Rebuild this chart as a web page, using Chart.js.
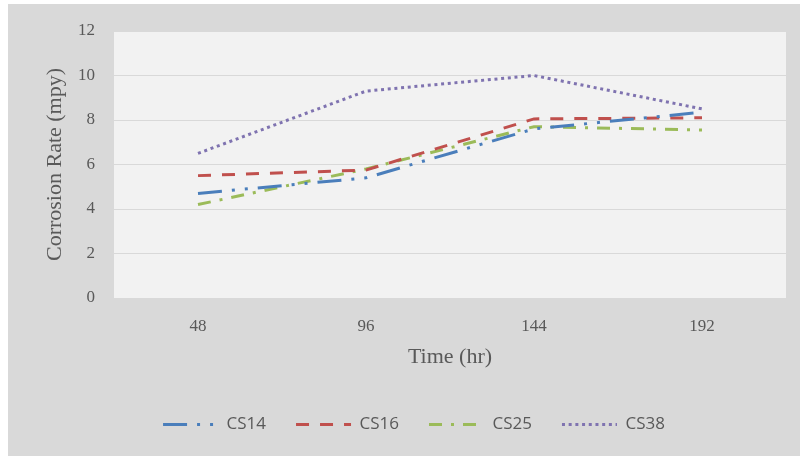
<!DOCTYPE html>
<html>
<head>
<meta charset="utf-8">
<script src="https://cdn.jsdelivr.net/npm/chart.js@4/dist/chart.umd.min.js"></script>
<style>
  html, body { margin: 0; padding: 0; background: #fff; }
  #wrap { width: 800px; height: 456px; }
</style>
</head>
<body>
<div id="wrap"><canvas id="chart" width="800" height="456"></canvas></div>
<script>
// values
const hours = ['48', '96', '144', '192'];
const cs14 = [4.7, 5.4, 7.6, 8.35];
const cs16 = [5.5, 5.75, 8.05, 8.1];
const cs25 = [4.2, 5.8, 7.7, 7.55];
const cs38 = [6.5, 9.3, 10.0, 8.5];

const textColor = '#595959';
const serif = "'Liberation Serif', 'DejaVu Serif', serif";

// gray chart area + light plot area
const backgroundPlugin = {
    id: 'background',
    beforeDraw(chart) {
        const ctx = chart.ctx;
        const a = chart.chartArea;
        ctx.save();
        ctx.fillStyle = '#ffffff';
        ctx.fillRect(0, 0, chart.width, chart.height);
        ctx.fillStyle = '#d9d9d9';
        ctx.fillRect(8, 4, chart.width - 8, chart.height - 4);
        ctx.fillStyle = '#f2f2f2';
        ctx.fillRect(a.left, a.top, a.right - a.left, a.bottom - a.top);
        ctx.restore();
    }
};

function series(label, data, color, dash) {
    return {
        label: label,
        data: data,
        borderColor: color,
        backgroundColor: color,
        borderWidth: 3,
        borderDash: dash,
        borderCapStyle: 'butt',
        pointRadius: 0,
        pointHoverRadius: 0,
        tension: 0,
        fill: false
    };
}

// legend with point style 'line' loses the dash, put it back
function legendLabels(chart) {
    const items = Chart.defaults.plugins.legend.labels.generateLabels(chart);
    items.forEach(item => {
        const ds = chart.data.datasets[item.datasetIndex];
        item.lineDash = ds.borderDash;
        item.lineWidth = ds.borderWidth;
        item.strokeStyle = ds.borderColor;
        item.lineCap = 'butt';
    });
    return items;
}

const ctx = document.getElementById('chart');
new Chart(ctx, {
    type: 'line',
    data: {
        labels: hours,
        datasets: [
            series('CS14', cs14, '#4a7ebb', [24, 10, 3, 10, 3, 10]),
            series('CS16', cs16, '#c0504d', [13, 11]),
            series('CS25', cs25, '#9bbb59', [13, 9, 3, 9]),
            series('CS38', cs38, '#7f73b0', [3, 3.7])
        ]
    },
    options: {
        responsive: false,
        animation: false,
        layout: { padding: { left: 42, top: 31, right: 14, bottom: 13 } },
        plugins: {
            tooltip: { enabled: false },
            legend: {
                position: 'bottom',
                labels: {
                    usePointStyle: true,
                    pointStyle: 'line',
                    pointStyleWidth: 55,
                    padding: 30,
                    color: textColor,
                    font: { family: "'Open Sans', sans-serif", size: 17 },
                    generateLabels: legendLabels
                }
            }
        },
        scales: {
            x: {
                offset: true,
                grid: { display: false, drawTicks: false },
                border: { display: false },
                ticks: { color: textColor, padding: 18, font: { family: serif, size: 17 } },
                title: {
                    display: true,
                    text: 'Time (hr)',
                    color: textColor,
                    padding: { top: 0, bottom: 16 },
                    font: { family: serif, size: 22 }
                },
                afterFit(scale) { scale.height = 88; }
            },
            y: {
                min: 0,
                max: 12,
                ticks: { stepSize: 2, color: textColor, padding: 19, font: { family: serif, size: 17 } },
                grid: { color: '#d9d9d9', lineWidth: 1, drawTicks: false },
                border: { display: false },
                title: {
                    display: true,
                    text: 'Corrosion Rate (mpy)',
                    color: textColor,
                    padding: { top: 0, bottom: 0 },
                    font: { family: serif, size: 22 }
                },
                afterFit(scale) { scale.width = 72; }
            }
        }
    },
    plugins: [backgroundPlugin]
});
</script>
</body>
</html>
